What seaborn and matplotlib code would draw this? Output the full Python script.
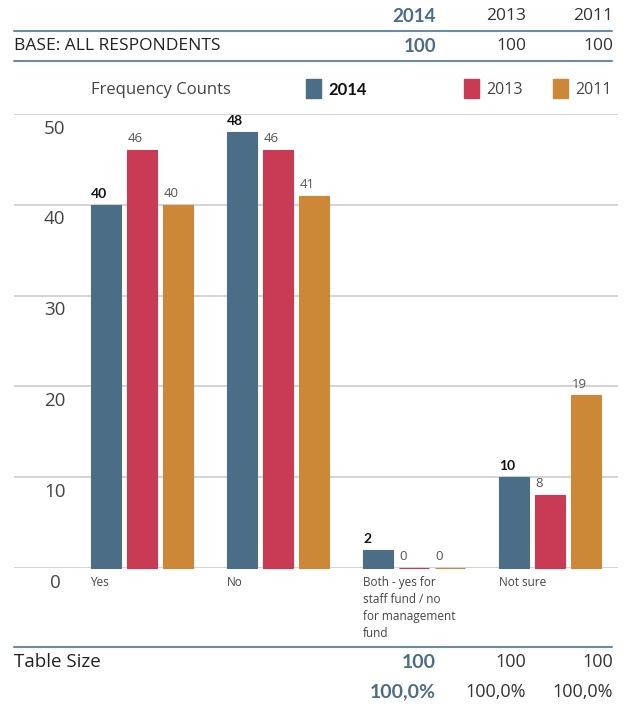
import matplotlib
matplotlib.use("Agg")
import matplotlib.pyplot as plt
import seaborn as sns
import pandas as pd

categories = ["Yes", "No", "Both - yes for\nstaff fund / no\nfor management\nfund", "Not sure"]
years = ["2014", "2013", "2011"]
values_2014 = [40, 48, 2, 10]
values_2013 = [46, 46, 0, 8]
values_2011 = [40, 41, 0, 19]
base_counts = [100, 100, 100]
table_sizes = [100, 100, 100]
table_pcts = ["100,0%", "100,0%", "100,0%"]
y_ticks = [0, 10, 20, 30, 40, 50]

colors = {"2014": "#4b6d86", "2013": "#c93a55", "2011": "#cd8837"}
accent = "#4b6d86"
text_gray = "#333333"

sns.set_theme(style="white")
plt.rcParams["font.family"] = ["Open Sans", "DejaVu Sans"]
BOLD = dict(family=["Lato", "DejaVu Sans"], fontweight="bold")
REG = dict(family=["Open Sans", "DejaVu Sans"], fontweight="normal")

df = pd.DataFrame({
    "category": categories * 3,
    "year": [y for y in years for _ in categories],
    "count": values_2014 + values_2013 + values_2011,
})

W, H = 632, 706
fig = plt.figure(figsize=(W / 100, H / 100), dpi=100)
ax = fig.add_axes([14 / W, 1 - 568 / H, (618 - 14) / W, (568 - 114) / H])

sns.barplot(data=df, x="category", y="count", hue="year", hue_order=years,
            palette=colors, width=0.8, gap=0.17, ax=ax, legend=False,
            linewidth=0.8, saturation=1)
for cont, yr in zip(ax.containers, years):
    for bar in cont:
        bar.set_edgecolor(colors[yr])
        bar.set_clip_on(False)
        bar.set_zorder(3)

ax.set_xlim(-0.94, 3.5)
ax.set_ylim(0, 50)
ax.set_xlabel("")
ax.set_ylabel("")
ax.set_xticks([])
ax.set_yticks([])
for s in ax.spines.values():
    s.set_visible(False)

# horizontal gridlines with their labels sitting just under each line
for t in y_ticks:
    ax.axhline(t, color="#cccccc", lw=1.2, zorder=0)
    ax.annotate(str(t), xy=(0, t), xycoords=("axes fraction", "data"),
                xytext=(37 if t else 34, -4), textcoords="offset points",
                ha="right", va="top", fontsize=13.5, color="#444444", **REG)

# value labels over each bar
for cont, yr in zip(ax.containers, years):
    for bar, v in zip(cont, cont.datavalues):
        style = BOLD if yr == "2014" else REG
        ax.annotate(f"{v:g}", xy=(bar.get_x(), bar.get_height()),
                    xytext=(0.5, 3.5), textcoords="offset points",
                    ha="left", va="bottom",
                    fontsize=10 if yr == "2014" else 9.5,
                    color="#111111" if yr == "2014" else "#555555", **style)

# category labels under the first bar of each group
first = ax.containers[0]
for bar, cat in zip(first, categories):
    ax.annotate(cat, xy=(bar.get_x(), 0), xytext=(0, -6),
                textcoords="offset points", ha="left", va="top",
                fontsize=8.5, color="#444444", linespacing=1.4, **REG)

# header table
def fx(px):
    return px / W

def fy(py):
    return 1 - py / H

col_right = [436, 526, 613]
for i, (x, yr) in enumerate(zip(col_right, years)):
    style = BOLD if i == 0 else REG
    fig.text(fx(x), fy(16), yr, ha="right", va="center",
             fontsize=13.5 if i == 0 else 12.5,
             color=accent if i == 0 else text_gray, **style)
fig.add_artist(plt.Line2D([fx(14), fx(612)], [fy(31), fy(31)], color="#6f8ba0", lw=1.5))
fig.text(fx(14), fy(46), "BASE: ALL RESPONDENTS", ha="left", va="center",
         fontsize=12.5, color="#222222", **REG)
for i, (x, v) in enumerate(zip(col_right, base_counts)):
    style = BOLD if i == 0 else REG
    fig.text(fx(x), fy(46), str(v), ha="right", va="center",
             fontsize=13.5 if i == 0 else 12.5,
             color=accent if i == 0 else text_gray, **style)
fig.add_artist(plt.Line2D([fx(14), fx(612)], [fy(61), fy(61)], color="#6f8ba0", lw=1.5))

# legend row
fig.text(fx(91), fy(90), "Frequency Counts", ha="left", va="center",
         fontsize=12, color="#444444", **REG)
legend_x = [306, 464, 553]
for i, (x, yr) in enumerate(zip(legend_x, years)):
    fig.add_artist(plt.Rectangle((fx(x), fy(98)), 15 / W, 19 / H,
                                 transform=fig.transFigure, color=colors[yr]))
    style = BOLD if i == 0 else REG
    fig.text(fx(x + 22), fy(90), yr, ha="left", va="center",
             fontsize=12 if i == 0 else 11.5,
             color="#111111" if i == 0 else "#444444", **style)

# footer table
fig.add_artist(plt.Line2D([fx(14), fx(612)], [fy(647), fy(647)], color="#6f8ba0", lw=1.5))
fig.text(fx(14), fy(662), "Table Size", ha="left", va="center", fontsize=13.5,
         color="#222222", **REG)
for i, (x, v, p) in enumerate(zip(col_right, table_sizes, table_pcts)):
    style = BOLD if i == 0 else REG
    size = 14 if i == 0 else 13
    color = accent if i == 0 else text_gray
    fig.text(fx(x), fy(662), str(v), ha="right", va="center", fontsize=size,
             color=color, **style)
    fig.text(fx(x), fy(692), p, ha="right", va="center", fontsize=size,
             color=color, **style)

fig.savefig("out.png", dpi=100)
